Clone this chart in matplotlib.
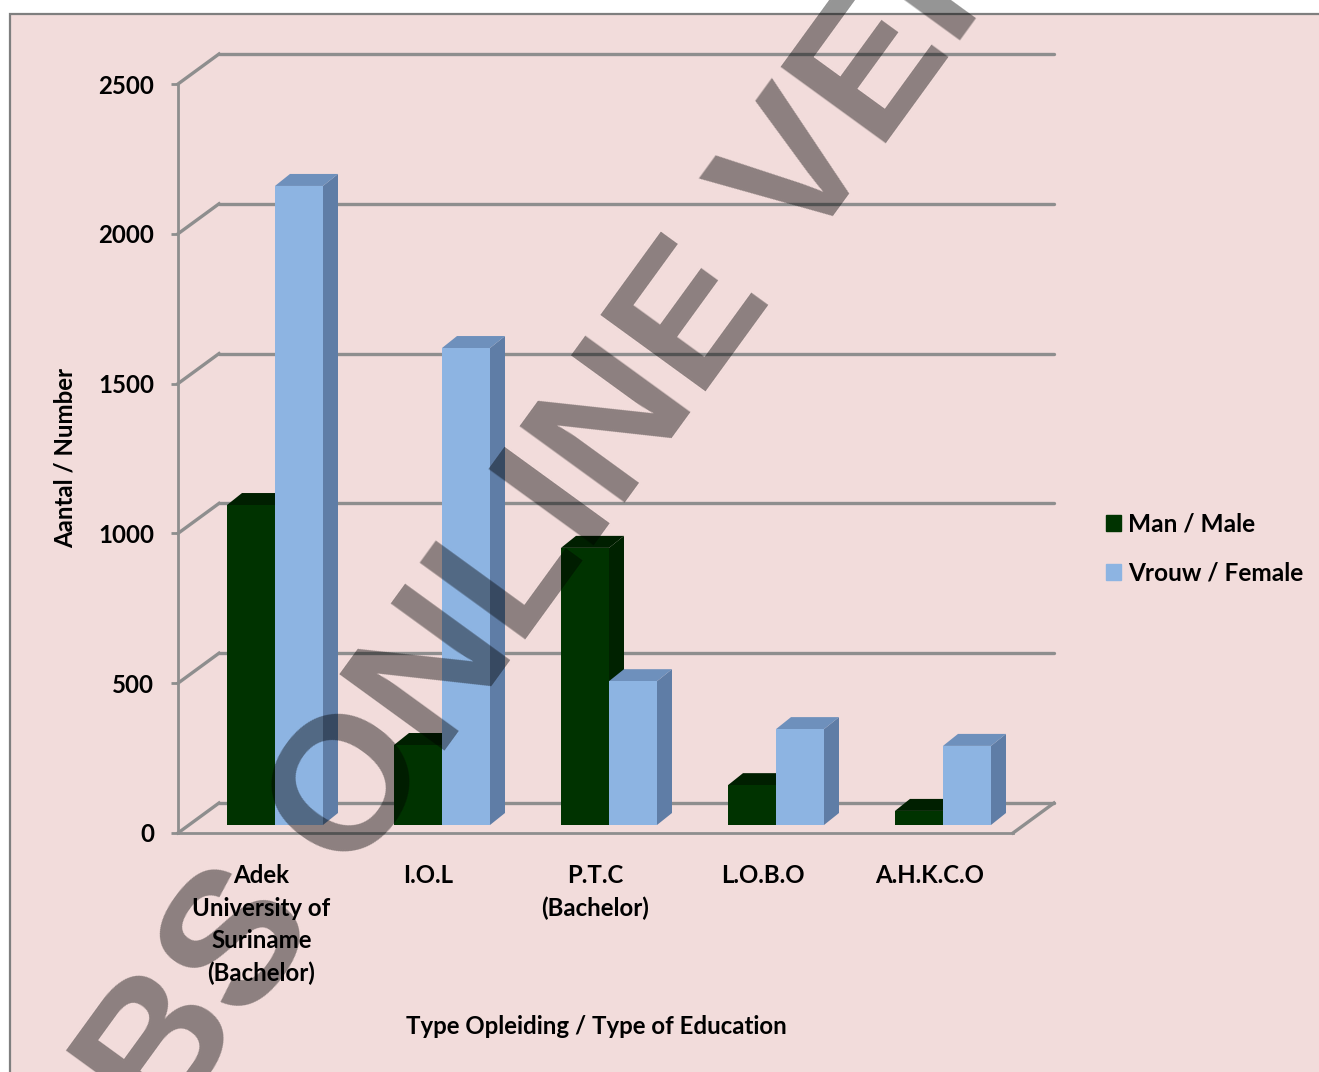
import matplotlib
matplotlib.use("Agg")
import matplotlib.pyplot as plt
from matplotlib.patches import Rectangle
from matplotlib.transforms import Affine2D

W, H = 1319, 1072
categories = ["Adek\nUniversity of\nSuriname\n(Bachelor)", "I.O.L", "P.T.C\n(Bachelor)", "L.O.B.O", "A.H.K.C.O"]
male = [1068, 267, 925, 133, 47]
female = [2133, 1592, 480, 320, 264]
series_names = ["Man / Male", "Vrouw / Female"]
y_ticks = [0, 500, 1000, 1500, 2000, 2500]

BG = "#F2DCDB"
LINE = "#8E8E8E"
C_M = ("#003300", "#001F00", "#002200")
C_F = ("#8DB4E2", "#6E90BC", "#5F7DA6")

plt.rcParams["font.family"] = ["Lato", "DejaVu Sans"]
plt.rcParams["font.weight"] = "bold"
plt.rcParams["axes.labelweight"] = "bold"
FS = 17.3

fig = plt.figure(figsize=(W / 100, H / 100), dpi=100, facecolor="white")
fig.add_artist(Rectangle((9.5 / W, -0.1), 1.1, 1.1 - 14 / H, transform=fig.transFigure,
                         facecolor=BG, edgecolor="#7F7F7F", lw=1.6, zorder=-5))

left, right, top, bot = 178, 1013, 84, 833
ax = fig.add_axes([left / W, 1 - bot / H, (right - left) / W, (bot - top) / H])
ax.patch.set_alpha(0)
ax.set_xlim(-0.5, 4.5)
ax.set_ylim(0, 2500)
for s in ("top", "right"):
    ax.spines[s].set_visible(False)
for s in ("left", "bottom"):
    ax.spines[s].set_color(LINE)
    ax.spines[s].set_linewidth(2)
ax.set_xticks(range(len(categories)))
ax.set_xticklabels(categories, linespacing=1.5)
ax.set_yticks(y_ticks)
ax.tick_params(axis="x", length=0, pad=22.5, labelsize=FS)
ax.tick_params(axis="y", length=5, width=2, color=LINE, pad=12, labelsize=FS)

px_x = (right - left) / 5
px_y = (bot - top) / 2500

def off(dx, dy):
    return ax.transData + Affine2D().translate(dx, dy)

# Walls and floor
DX, DY = 41, 30
back = off(DX, DY)
for v in y_ticks:
    ax.plot([-0.5, 4.5], [v, v], transform=back, color=LINE, lw=2.4, clip_on=False, zorder=1,
            solid_capstyle="round")
    ax.plot([-0.5, -0.5 + DX / px_x], [v, v + DY / px_y], color=LINE, lw=2.4, clip_on=False, zorder=1)
ax.plot([4.5, 4.5 + DX / px_x], [0, DY / px_y], color=LINE, lw=2.4, clip_on=False, zorder=1)

# Bars with a drawn depth
BW = 48 / 167
BDX, BDY = 15, 12
front = off(13.5, 8)
ddx, ddy = BDX / px_x, BDY / px_y

def bar3d(x0, v, cols, z):
    x1 = x0 + BW
    ax.fill([x1, x1 + ddx, x1 + ddx, x1], [0, ddy, v + ddy, v], transform=front,
            color=cols[2], lw=0, clip_on=False, zorder=z)
    ax.fill([x0, x0 + ddx, x1 + ddx, x1], [v, v + ddy, v + ddy, v], transform=front,
            color=cols[1], lw=0, clip_on=False, zorder=z)
    ax.bar(x0, v, BW, align="edge", color=cols[0], lw=0, transform=front, clip_on=False, zorder=z)

for i, (m, f) in enumerate(zip(male, female)):
    bar3d(i - BW, m, C_M, 3 + i * 0.1)
    bar3d(i, f, C_F, 3.05 + i * 0.1)

ax.set_ylabel("Aantal / Number", fontsize=FS)
ax.yaxis.set_label_coords((65 - left) / (right - left), (bot - 458) / (bot - top))
ax.set_xlabel("Type Opleiding / Type of Education", fontsize=FS)
ax.xaxis.set_label_coords((596 - left) / (right - left), (bot - 1026) / (bot - top))
ax.xaxis.label.set_va("center")
ax.yaxis.label.set_va("center")

handles = [Rectangle((0, 0), 1, 1, color=C_M[0]), Rectangle((0, 0), 1, 1, color=C_F[0])]
fig.legend(handles, series_names, loc="center left", bbox_to_anchor=(1084 / W, 1 - 548.5 / H),
           frameon=False, fontsize=17.6, handlelength=0.6, handleheight=0.6, handletextpad=0.3,
           labelspacing=1.07)

# Watermark
fig.text(164 / W, 1 - 1137 / H, "BS ONLINE VERSION", rotation=54, rotation_mode="anchor",
         ha="left", va="baseline", fontsize=137, color="black", alpha=0.42,
         family="Liberation Sans", weight="bold", zorder=20)

fig.savefig("out.png", dpi=100)
